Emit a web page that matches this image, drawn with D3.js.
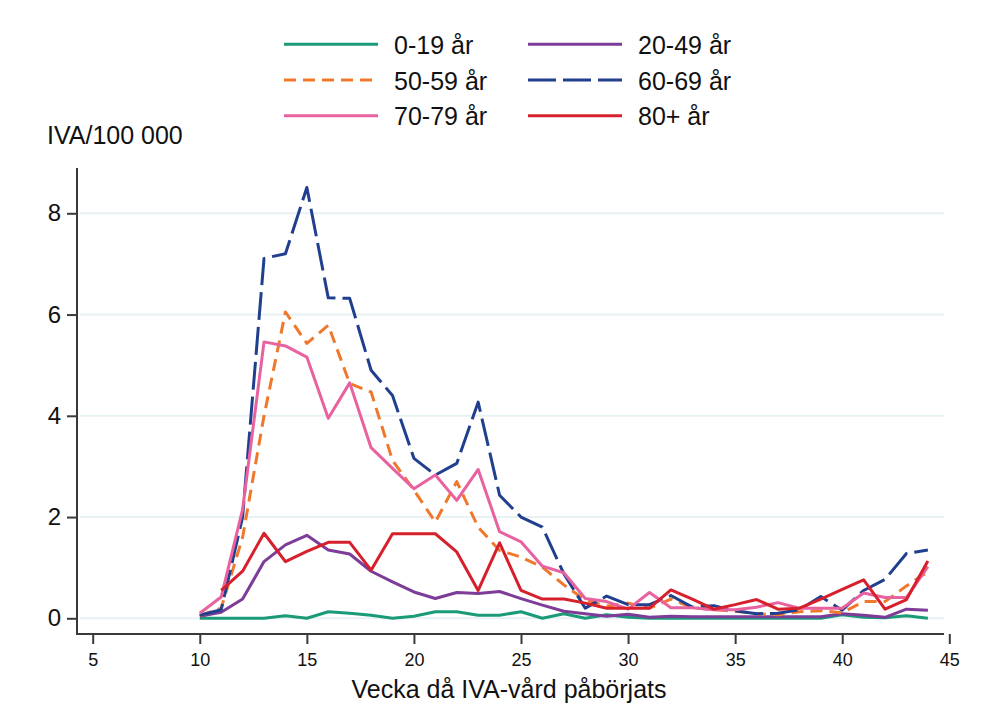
<!DOCTYPE html>
<html>
<head>
<meta charset="utf-8">
<script src="https://cdn.jsdelivr.net/npm/d3@7"></script>
<style>
  html, body { margin: 0; padding: 0; background: #fff; }
  svg { display: block; font-family: "Liberation Sans", Arial, sans-serif; }
</style>
</head>
<body>
<svg id="chart" width="992" height="725"></svg>
<script>
// ---- data ----
const weeks = d3.range(10, 45);
const seriesNames = ["0-19 år", "20-49 år", "50-59 år", "60-69 år", "70-79 år", "80+ år"];
const age0_19  = [0,0,0,0,0.05,0,0.13,0.1,0.06,0,0.04,0.13,0.13,0.06,0.06,0.13,0,0.09,0,0.07,0.02,0,0,0,0,0,0,0,0,0,0.07,0.02,0.01,0.05,0];
const age20_49 = [0.04,0.12,0.38,1.12,1.45,1.64,1.35,1.27,0.93,0.72,0.52,0.39,0.51,0.49,0.53,0.39,0.26,0.14,0.09,0.04,0.08,0.02,0.04,0.03,0.03,0.03,0.03,0.03,0.03,0.03,0.09,0.06,0.02,0.18,0.16];
const age50_59 = [0.05,0.2,1.6,4.0,6.05,5.43,5.79,4.64,4.47,3.12,2.53,1.9,2.7,1.8,1.34,1.21,1.01,0.66,0.36,0.24,0.3,0.2,0.38,0.21,0.17,0.14,0.09,0.07,0.13,0.15,0.11,0.33,0.33,0.64,0.92];
const age60_69 = [0.06,0.17,2.0,7.11,7.2,8.51,6.33,6.32,4.9,4.4,3.16,2.83,3.06,4.27,2.43,2.0,1.8,0.88,0.2,0.44,0.27,0.27,0.45,0.22,0.25,0.15,0.09,0.1,0.17,0.43,0.16,0.55,0.77,1.28,1.35];
const age70_79 = [0.1,0.42,2.15,5.46,5.38,5.16,3.95,4.65,3.37,2.96,2.56,2.83,2.33,2.94,1.71,1.51,1.03,0.9,0.39,0.33,0.18,0.51,0.21,0.21,0.17,0.17,0.22,0.31,0.2,0.2,0.2,0.5,0.41,0.41,1.02];
const age80plus = [null,0.55,0.93,1.68,1.12,1.32,1.5,1.5,0.95,1.67,1.67,1.67,1.31,0.55,1.49,0.55,0.38,0.38,0.3,0.2,0.2,0.2,0.56,0.38,0.18,0.27,0.37,0.18,0.2,0.38,0.57,0.76,0.18,0.37,1.13];
const xTicks = [5, 10, 15, 20, 25, 30, 35, 40, 45];
const yTicks = [0, 2, 4, 6, 8];

const seriesValues = [age0_19, age20_49, age50_59, age60_69, age70_79, age80plus];
const colors = ["#1a9a78", "#7d3c98", "#f0782d", "#213f8f", "#e8629f", "#d6202c"];
const dashes = [null, null, "12,7", "28,7", null, null];

// ---- chart ----
const svg = d3.select("#chart");
const x = d3.scaleLinear().domain([5, 45]).range([92.7, 949.3]);
const y = d3.scaleLinear().domain([0, 8]).range([618.3, 213.3]);
const axisColor = "#3a3a3a";

// gridlines
svg.append("g").selectAll("line").data(yTicks).join("line")
  .attr("x1", 80).attr("x2", 944)
  .attr("y1", d => y(d)).attr("y2", d => y(d))
  .attr("stroke", "#e8f1f4").attr("stroke-width", 2);

// y axis
const yAxis = d3.axisLeft(y).tickValues(yTicks).tickSize(10).tickPadding(6).tickFormat(d3.format("d"));
const gy = svg.append("g").attr("transform", "translate(77,0)").call(yAxis);
gy.select(".domain").remove();
gy.append("line").attr("x1", 0).attr("x2", 0).attr("y1", 168).attr("y2", 635)
  .attr("stroke", axisColor).attr("stroke-width", 2);
gy.selectAll(".tick line").attr("stroke", axisColor).attr("stroke-width", 2);
gy.selectAll(".tick text").attr("fill", "#111").style("font-size", "24px")
  .attr("font-family", "Liberation Sans, Arial, sans-serif");

// x axis
const xAxis = d3.axisBottom(x).tickValues(xTicks).tickSize(10).tickPadding(9).tickFormat(d3.format("d"));
const gx = svg.append("g").attr("transform", "translate(0,634)").call(xAxis);
gx.select(".domain").remove();
gx.append("line").attr("x1", 76).attr("x2", 944).attr("y1", 0).attr("y2", 0)
  .attr("stroke", axisColor).attr("stroke-width", 2);
gx.selectAll(".tick line").attr("stroke", axisColor).attr("stroke-width", 2);
gx.selectAll(".tick text").attr("fill", "#111").style("font-size", "18px")
  .attr("font-family", "Liberation Sans, Arial, sans-serif");

// titles
svg.append("text").attr("x", 47).attr("y", 144).attr("fill", "#111")
  .style("font-size", "25px").text("IVA/100 000");
svg.append("text").attr("x", 509).attr("y", 698).attr("text-anchor", "middle").attr("fill", "#111")
  .style("font-size", "25px").text("Vecka då IVA-vård påbörjats");

// lines
const line = d3.line()
  .defined(d => d.v !== null)
  .x(d => x(d.w)).y(d => y(d.v));
seriesValues.forEach((vals, i) => {
  const data = weeks.map((w, j) => ({ w: w, v: vals[j] }));
  svg.append("path").datum(data)
    .attr("d", line)
    .attr("fill", "none")
    .attr("stroke", colors[i])
    .attr("stroke-width", 3)
    .attr("stroke-linejoin", "round")
    .attr("stroke-dasharray", dashes[i]);
});

// legend
const legX = [284, 528];
const legY = [44.3, 80, 115.7];
seriesNames.forEach((name, i) => {
  const col = i % 2, row = Math.floor(i / 2);
  const g = svg.append("g").attr("transform", `translate(${legX[col]},${legY[row]})`);
  g.append("line").attr("x1", 0).attr("x2", 94).attr("y1", 0).attr("y2", 0)
    .attr("stroke", colors[i]).attr("stroke-width", 3)
    .attr("stroke-dasharray", dashes[i]);
  g.append("text").attr("x", 110).attr("y", 9.5).attr("fill", "#111")
    .style("font-size", "25px").text(name);
});
</script>
</body>
</html>
